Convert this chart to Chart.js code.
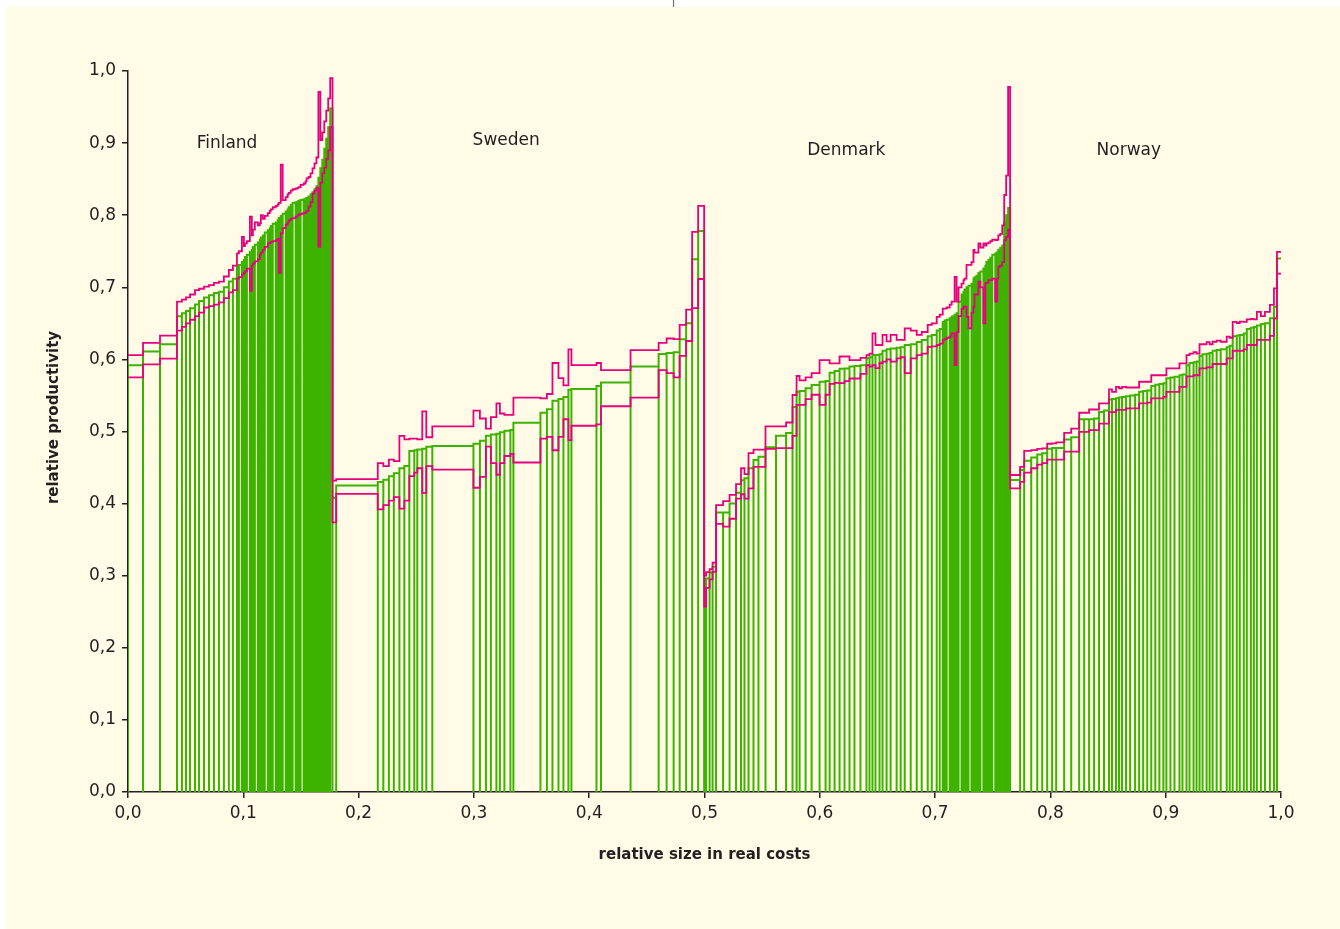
<!DOCTYPE html>
<html>
<head>
<meta charset="utf-8">
<title>Relative productivity by relative size</title>
<script src="https://cdn.jsdelivr.net/npm/chart.js@4.4.1/dist/chart.umd.min.js"></script>
<style>
  html, body { margin: 0; padding: 0; background: #ffffff; }
  #wrap { position: relative; width: 1340px; height: 929px; }
</style>
</head>
<body>
<div id="wrap"><canvas id="chart" width="1340" height="929"></canvas></div>
<script>
// Each unit: its share of total real costs (bar width), its relative
// productivity (bar height) and the upper / lower bound around it.
// Units are sorted by productivity inside each country.

const finlandSize = [
  .0130, .0147, .0147,
  .0043, .0035, .0035, .0043, .0035, .0043, .0043, .0043, .0043, .0043, .0043, .0035, .0035,
  .0017, .0026, .0017, .0009, .0017, .0026, .0017, .0009, .0017, .0026,
  .0017, .0009, .0017, .0017, .0026, .0017, .0009, .0017, .0026, .0017,
  .0009, .0017, .0017, .0026, .0017, .0009, .0017, .0017, .0026, .0017,
  .0009, .0017, .0026, .0017, .0009, .0017, .0017, .0017, .0017, .0017,
  .0017, .0017, .0017, .0017, .0017, .0017, .0017, .0020
];
const finlandProd = [
  .592, .611, .621,
  .660, .664, .667, .671, .676, .681, .686, .689, .692, .694, .700, .708, .712,
  .728, .731, .735, .738, .742, .745, .749, .752, .756, .759,
  .762, .766, .769, .772, .776, .779, .782, .785, .788, .790,
  .793, .796, .799, .802, .805, .808, .811, .814, .817, .818,
  .819, .820, .821, .822, .823, .824, .826, .829, .832, .836,
  .840, .852, .865, .877, .892, .906, .922, .948
];
const finlandHigh = [
  .606, .623, .633,
  .680, .683, .686, .690, .696, .698, .701, .703, .706, .708, .715, .724, .730,
  .747, .750, .770, .757, .761, .764, .798, .772, .780, .790,
  .786, .789, .800, .795, .799, .803, .806, .808, .811, .813,
  .815, .817, .870, .821, .825, .829, .831, .834, .836, .837,
  .838, .839, .842, .844, .847, .851, .853, .858, .865, .872,
  .880, .971, .904, .915, .930, .945, .962, .990
];
const finlandLow = [
  .575, .593, .601,
  .640, .645, .650, .655, .660, .665, .672, .674, .676, .679, .685, .693, .696,
  .712, .714, .718, .720, .722, .726, .695, .730, .733, .736,
  .739, .745, .748, .752, .756, .761, .762, .763, .764, .765,
  .767, .720, .775, .782, .787, .790, .793, .795, .796, .798,
  .800, .801, .802, .803, .804, .806, .812, .818, .830, .834,
  .838, .756, .845, .858, .866, .878, .890, .922
];

const swedenSize = [
  .0032, .0360, .0048, .0048, .0043, .0048, .0043, .0043, .0043, .0026,
  .0043, .0035, .0052, .0356, .0056, .0052, .0043, .0048, .0030, .0039,
  .0052, .0026, .0234, .0056, .0048, .0052, .0043, .0043, .0026, .0217,
  .0039, .0256, .0243, .0069, .0061, .0052, .0056, .0052, .0052, .0052
];
const swedenProd = [
  .408, .425, .430, .433, .438, .442, .449, .452, .473, .474,
  .475, .476, .479, .480, .483, .487, .494, .496, .497, .499,
  .501, .502, .512, .526, .531, .5425, .545, .548, .558, .559,
  .563, .568, .590, .6075, .609, .610, .628, .650, .739, .778
];
const swedenHigh = [
  .432, .434, .456, .452, .461, .459, .494, .489, .490, .490,
  .489, .528, .492, .507, .529, .518, .504, .520, .539, .525,
  .523, .523, .547, .546, .552, .595, .574, .564, .614, .592,
  .595, .585, .613, .623, .629, .628, .648, .669, .777, .813
];
const swedenLow = [
  .374, .4135, .392, .398, .404, .409, .393, .404, .438, .443,
  .449, .415, .452, .447, .422, .437, .479, .456, .440, .456,
  .466, .469, .457, .490, .4925, .474, .4925, .517, .488, .508,
  .510, .535, .547, .585, .581, .575, .605, .6255, .671, .7115
];

const denmarkSize = [
  .0017, .0030, .0026, .0030, .0061, .0056, .0056, .0043, .0030, .0035,
  .0043, .0043, .0061, .0091, .0087, .0056, .0035, .0026, .0052, .0052,
  .0069, .0052, .0035, .0043, .0043, .0043, .0043, .0043, .0052, .0052,
  .0026, .0026, .0026, .0035, .0026, .0035, .0035, .0052, .0035, .0035,
  .0052, .0052, .0043, .0052, .0035, .0043, .0026, .0026,
  .0017, .0017, .0026, .0017, .0009, .0017, .0017, .0017, .0026, .0017,
  .0009, .0017, .0017, .0026, .0017, .0009, .0017, .0017, .0017, .0026,
  .0017, .0009, .0017, .0017, .0017, .0026, .0017, .0009, .0017, .0017,
  .0017, .0017, .0017, .0017
];
const denmarkProd = [
  .290, .296, .304, .3125, .3875, .3875, .400, .415, .4325, .435,
  .449, .4605, .465, .478, .494, .498, .534, .555, .556, .560,
  .5645, .569, .570, .5815, .584, .587, .5875, .590, .591, .592,
  .6015, .603, .606, .606, .607, .612, .614, .615, .616, .617,
  .620, .621, .624, .627, .632, .634, .640, .642,
  .652, .654, .655, .657, .659, .660, .662, .664, .680, .690,
  .694, .697, .700, .702, .705, .712, .714, .716, .720, .722,
  .726, .730, .735, .738, .741, .745, .747, .749, .752, .755,
  .758, .790, .800, .810
];
const denmarkHigh = [
  .300, .305, .309, .318, .398, .4035, .412, .427, .449, .441,
  .470, .475, .475, .507, .507, .5125, .5506, .577, .571, .575,
  .581, .599, .599, .5945, .5945, .604, .604, .599, .599, .602,
  .606, .608, .636, .620, .620, .634, .625, .634, .627, .627,
  .643, .640, .634, .638, .648, .650, .659, .662,
  .6705, .6705, .672, .676, .680, .680, .7145, .680, .700, .705,
  .710, .712, .731, .731, .735, .752, .748, .748, .761, .755,
  .761, .758, .761, .762, .764, .766, .7655, .766, .772, .774,
  .786, .828, .855, .978
];
const denmarkLow = [
  .257, .283, .295, .3055, .372, .368, .379, .407, .413, .407,
  .421, .451, .451, .476, .477, .477, .494, .537, .537, .545,
  .551, .537, .551, .566, .5675, .567, .570, .5735, .5735, .580,
  .592, .590, .592, .588, .595, .597, .600, .597, .6015, .603,
  .581, .6015, .606, .608, .6175, .618, .620, .622,
  .627, .628, .630, .632, .636, .636, .592, .638, .660, .670,
  .673, .673, .659, .643, .665, .673, .690, .690, .708, .700,
  .650, .706, .706, .710, .710, .712, .680, .712, .7285, .730,
  .735, .7655, .770, .780
];

const norwaySize = [
  .0087, .0035, .0061, .0052, .0043, .0043, .0043, .0035, .0069, .0061,
  .0069, .0043, .0043, .0043, .0043, .0043, .0043, .0026, .0035, .0026,
  .0026, .0035, .0035, .0043, .0035, .0035, .0035, .0035, .0035, .0035,
  .0035, .0026, .0035, .0035, .0043, .0026, .0035, .0026, .0035, .0026,
  .0026, .0026, .0035, .0026, .0026, .0035, .0035, .0052, .0026, .0026,
  .0035, .0026, .0035, .0026, .0035, .0026, .0026, .0035, .0035, .0043,
  .0035, .0026, .0035
];
const norwayProd = [
  .4327, .4466, .4595, .464, .468, .470, .476, .477, .477, .489,
  .492, .517, .517, .517, .518, .527, .529, .5445, .545, .546,
  .547, .548, .549, .550, .551, .555, .556, .557, .563, .565,
  .566, .567, .574, .575, .576, .578, .579, .592, .595, .596,
  .597, .605, .607, .608, .609, .612, .613, .614, .617, .619,
  .632, .633, .634, .636, .642, .644, .645, .647, .649, .650,
  .657, .673, .740
];
const norwayHigh = [
  .4397, .451, .473, .4743, .476, .4766, .483, .4834, .485, .498,
  .504, .526, .526, .5305, .5305, .539, .539, .5585, .555, .562,
  .560, .562, .561, .561, .561, .569, .569, .569, .578, .578,
  .578, .578, .5875, .5875, .5875, .5945, .5945, .606, .608, .610,
  .608, .621, .621, .624, .621, .6245, .626, .6245, .6315, .630,
  .652, .6505, .6523, .652, .6556, .656, .6556, .666, .660, .666,
  .6755, .6985, .749
];
const norwayLow = [
  .421, .430, .443, .449, .454, .456, .461, .461, .461, .472,
  .472, .4995, .4995, .502, .502, .511, .511, .527, .527, .530,
  .530, .530, .532, .532, .532, .539, .539, .540, .546, .546,
  .546, .548, .555, .555, .555, .562, .562, .5765, .5765, .578,
  .578, .5875, .5875, .589, .589, .5936, .5936, .5936, .6015, .6015,
  .612, .612, .612, .614, .620, .620, .620, .627, .627, .627,
  .6325, .657, .719
];

const countryNames = ['Finland', 'Sweden', 'Denmark', 'Norway'];
const countryLabelX = [0.0859, 0.328, 0.623, 0.868];
const countryLabelY = [0.900, 0.904, 0.890, 0.890];

const xTicks = [0, 0.1, 0.2, 0.3, 0.4, 0.5, 0.6, 0.7, 0.8, 0.9, 1.0];
const yTicks = [0, 0.1, 0.2, 0.3, 0.4, 0.5, 0.6, 0.7, 0.8, 0.9, 1.0];
const xTitle = 'relative size in real costs';
const yTitle = 'relative productivity';

// ---- build outline and bound paths from the unit arrays ----
const countries = [
  [finlandSize, finlandProd, finlandHigh, finlandLow],
  [swedenSize, swedenProd, swedenHigh, swedenLow],
  [denmarkSize, denmarkProd, denmarkHigh, denmarkLow],
  [norwaySize, norwayProd, norwayHigh, norwayLow]
];

// sizes are shares of the total, so the cumulative axis runs 0..1
const totalSize = countries.reduce((s, c) => s + c[0].reduce((a, b) => a + b, 0), 0);

const barOutline = [];
const highPath = [];
const lowPath = [];
let cursor = 0;
for (const [size, prod, high, low] of countries) {
  for (let i = 0; i < size.length; i++) {
    const x0 = cursor / totalSize;
    cursor += size[i];
    const x1 = cursor / totalSize;
    barOutline.push({x: x0, y: 0}, {x: x0, y: prod[i]}, {x: x1, y: prod[i]}, {x: x1, y: 0});
    highPath.push({x: x0, y: high[i]}, {x: x1, y: high[i]});
    lowPath.push({x: x0, y: low[i]}, {x: x1, y: low[i]});
  }
}

const INK = '#231f20';
const GREEN = '#3db300';
const MAGENTA = '#e6007e';
const FONT = '"DejaVu Sans", Inter, sans-serif';
const fmt = v => Number(v).toFixed(1).replace('.', ',');

const paperPlugin = {
  id: 'paper',
  beforeDraw(chart) {
    const {ctx, width, height} = chart;
    ctx.save();
    ctx.fillStyle = '#ffffff';
    ctx.fillRect(0, 0, width, height);
    ctx.fillStyle = '#fffbe6';
    ctx.fillRect(6, 7, width - 6, height - 7);
    ctx.strokeStyle = '#707070';
    ctx.lineWidth = 1.2;
    ctx.beginPath();
    ctx.moveTo(673.5, 0);
    ctx.lineTo(673.5, 7);
    ctx.stroke();
    ctx.restore();
  }
};

const labelPlugin = {
  id: 'labels',
  afterDraw(chart) {
    const {ctx, chartArea} = chart;
    const xs = chart.scales.x, ys = chart.scales.y;
    ctx.save();
    ctx.fillStyle = INK;
    ctx.textAlign = 'center';
    ctx.textBaseline = 'middle';
    ctx.font = '17px ' + FONT;
    countryNames.forEach((name, i) => {
      ctx.fillText(name, xs.getPixelForValue(countryLabelX[i]), ys.getPixelForValue(countryLabelY[i]));
    });
    ctx.font = 'bold 15px ' + FONT;
    ctx.fillText(xTitle, (chartArea.left + chartArea.right) / 2, chartArea.bottom + 63);
    ctx.translate(54, (chartArea.top + chartArea.bottom) / 2 - 14);
    ctx.rotate(-Math.PI / 2);
    ctx.fillText(yTitle, 0, 0);
    ctx.restore();
  }
};

const axisStyle = {
  border: {color: INK, width: 1.5},
  grid: {drawOnChartArea: false, drawTicks: true, tickLength: 6, color: INK, lineWidth: 1.5},
};

new Chart(document.getElementById('chart'), {
  type: 'scatter',
  data: {
    datasets: [
      {
        label: 'upper bound', data: highPath, showLine: true, stepped: true,
        borderColor: MAGENTA, borderWidth: 1.8, pointRadius: 0, fill: false, order: 1
      },
      {
        label: 'lower bound', data: lowPath, showLine: true, stepped: true,
        borderColor: MAGENTA, borderWidth: 1.8, pointRadius: 0, fill: false, order: 1
      },
      {
        label: 'relative productivity', data: barOutline, showLine: true, stepped: true,
        borderColor: GREEN, borderWidth: 2, pointRadius: 0, fill: false, order: 2
      }
    ]
  },
  options: {
    responsive: false,
    animation: false,
    devicePixelRatio: 1,
    layout: {padding: {left: 0, right: 59, top: 71, bottom: 0}},
    elements: {line: {borderJoinStyle: 'miter', tension: 0}},
    plugins: {legend: {display: false}, tooltip: {enabled: false}},
    scales: {
      x: {
        type: 'linear', min: 0, max: 1,
        afterFit(s) { s.height = 137; },
        afterBuildTicks(s) { s.ticks = xTicks.map(v => ({value: v})); },
        ...axisStyle,
        ticks: {
          padding: 5, color: INK, maxRotation: 0, autoSkip: false,
          font: {family: FONT, size: 17},
          callback: fmt
        }
      },
      y: {
        type: 'linear', min: 0, max: 1,
        afterFit(s) { s.width = 128; },
        afterBuildTicks(s) { s.ticks = yTicks.map(v => ({value: v})); },
        ...axisStyle,
        ticks: {
          padding: 6, color: INK, autoSkip: false,
          font: {family: FONT, size: 17},
          callback: fmt
        }
      }
    }
  },
  plugins: [paperPlugin, labelPlugin]
});
</script>
</body>
</html>
